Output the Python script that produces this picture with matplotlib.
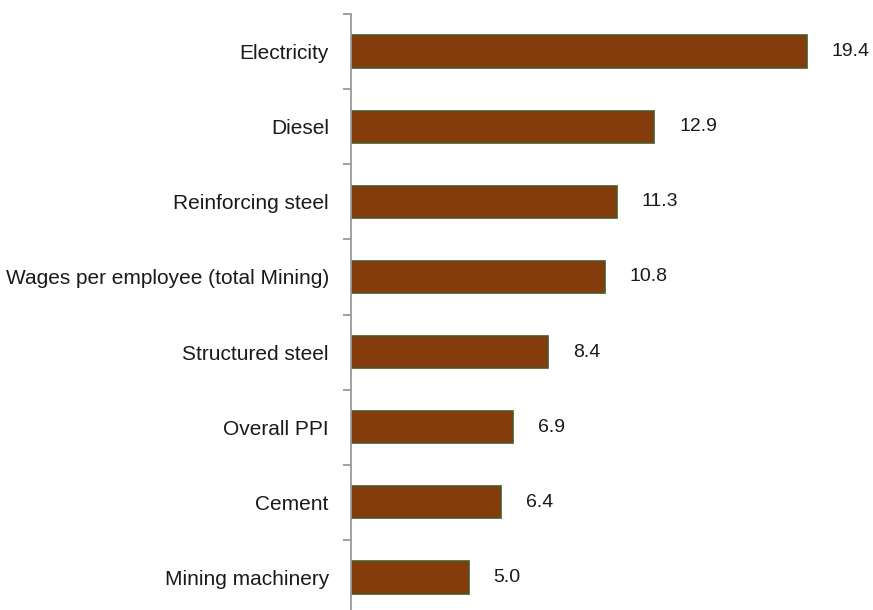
import matplotlib
matplotlib.use("Agg")
import matplotlib.pyplot as plt
from matplotlib import font_manager

categories = [
    "Electricity",
    "Diesel",
    "Reinforcing steel",
    "Wages per employee (total Mining)",
    "Structured steel",
    "Overall PPI",
    "Cement",
    "Mining machinery",
]
values = [19.4, 12.9, 11.3, 10.8, 8.4, 6.9, 6.4, 5.0]

names = {f.name for f in font_manager.fontManager.ttflist}
family = ["Liberation Sans Narrow"] if "Liberation Sans Narrow" in names else ["Liberation Sans"]
plt.rcParams["font.family"] = family + ["DejaVu Sans"]

W, H = 873, 610
fig = plt.figure(figsize=(W / 100, H / 100), dpi=100)

# axes placement in pixels
x0, px_per_unit = 351, 23.5
xmax = 22.0
top_px, bottom_px = 14, 615
ax = fig.add_axes([x0 / W, (H - bottom_px) / H, xmax * px_per_unit / W, (bottom_px - top_px) / H])

n = len(categories)
pos = list(range(n))
ax.barh(pos, values, height=0.43, color="#843C0C", edgecolor="#4A5A26", linewidth=1.2)

ax.set_xlim(0, xmax)
ax.set_ylim(n - 0.5, -0.5)

for p, v in zip(pos, values):
    ax.annotate(f"{v:.1f}", xy=(v, p), xytext=(18, 0), textcoords="offset points",
                ha="left", va="center", fontsize=14, color="#1a1a1a")

ax.set_yticks(pos)
ax.set_yticklabels(categories, fontsize=15, color="#1a1a1a")
ax.tick_params(axis="y", which="major", length=0, pad=16)
ax.set_yticks([p - 0.5 for p in pos] + [n - 0.5], minor=True)
ax.tick_params(axis="y", which="minor", length=6, width=1.3, color="#999999", direction="out")

ax.xaxis.set_visible(False)
for s in ["top", "right", "bottom"]:
    ax.spines[s].set_visible(False)
ax.spines["left"].set_color("#999999")
ax.spines["left"].set_linewidth(1.3)

fig.savefig("out.png", dpi=100)
